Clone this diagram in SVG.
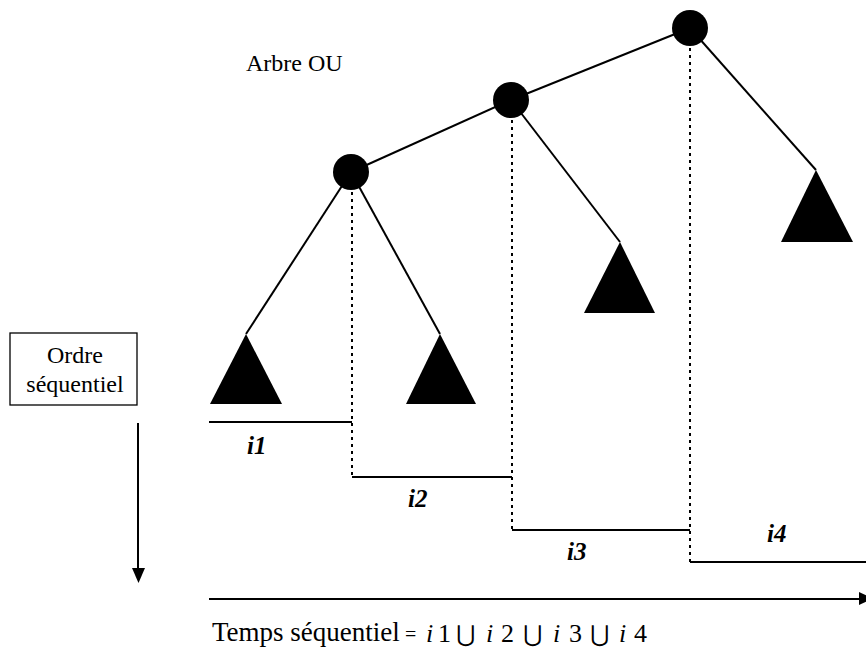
<svg xmlns="http://www.w3.org/2000/svg" width="866" height="658" viewBox="0 0 866 658">
<defs>
<style>
.l{stroke:#000;stroke-width:2;fill:none}
.d{stroke:#000;stroke-width:2;fill:none;stroke-dasharray:3 4}
.lab{font-weight:bold;font-style:italic;font-size:25px}
</style>
</defs>
<rect width="866" height="658" fill="#fff"/>
<g id="connectors">
<line class="l" x1="351" y1="172" x2="511" y2="100"/>
<line class="l" x1="511" y1="100" x2="690" y2="28"/>
<line class="l" x1="351" y1="172" x2="246" y2="334"/>
<line class="l" x1="351" y1="172" x2="440" y2="334"/>
<line class="l" x1="511" y1="100" x2="620" y2="242"/>
<line class="l" x1="690" y1="28" x2="816" y2="170"/>
<line class="d" x1="352" y1="192" x2="352" y2="477"/>
<line class="d" x1="512" y1="120" x2="512" y2="530"/>
<line class="d" x1="690" y1="48" x2="690" y2="562"/>
<line class="l" x1="209" y1="422" x2="352" y2="422"/>
<line class="l" x1="352" y1="477" x2="512" y2="477"/>
<line class="l" x1="512" y1="530" x2="690" y2="530"/>
<line class="l" x1="690" y1="562" x2="866" y2="562"/>
<line class="l" x1="138" y1="423" x2="138" y2="570"/>
<polygon points="132,568 145,568 138.5,583" fill="#000"/>
<line class="l" x1="209" y1="599" x2="862" y2="599"/>
<polygon points="859,592 873,598.5 859,605" fill="#000"/>
</g>
<g id="n1"><circle cx="351" cy="172" r="18"/></g>
<g id="n2"><circle cx="511" cy="100" r="18"/></g>
<g id="n3"><circle cx="690" cy="28" r="18"/></g>
<g id="t1"><polygon points="246,334 210,404 282,404"/></g>
<g id="t2"><polygon points="440,334 406,404 476,404"/></g>
<g id="t3"><polygon points="620,242 584,313 655,313"/></g>
<g id="t4"><polygon points="816,170 781,242 853,242"/></g>
<g font-family="Liberation Serif, Times New Roman, serif" fill="#000">
<g id="title"><text x="246" y="71" font-size="24">Arbre OU</text></g>
<g id="box">
<rect x="10" y="333" width="127" height="72" fill="#fff" stroke="#000" stroke-width="1.3"/>
<text x="75" y="363" font-size="24" text-anchor="middle">Ordre</text>
<text x="75" y="392" font-size="24" text-anchor="middle">séquentiel</text>
</g>
<g id="labels">
<text class="lab" x="247" y="454">i1</text>
<text class="lab" x="408" y="507">i2</text>
<text class="lab" x="567" y="560">i3</text>
<text class="lab" x="767" y="542">i4</text>
</g>
<g id="formula">
<text x="212" y="641" font-size="27">Temps séquentiel</text>
<text x="405" y="641" font-size="20">=</text>
<text font-size="26" y="642"><tspan x="426" font-style="italic">i</tspan><tspan x="438">1</tspan><tspan x="486" font-style="italic">i</tspan><tspan x="501">2</tspan><tspan x="553" font-style="italic">i</tspan><tspan x="569">3</tspan><tspan x="619" font-style="italic">i</tspan><tspan x="634">4</tspan></text>
<text font-family="DejaVu Sans, sans-serif" font-size="23" y="642"><tspan x="456">⋃</tspan><tspan x="523">⋃</tspan><tspan x="590">⋃</tspan></text>
</g>
</g>
</svg>
